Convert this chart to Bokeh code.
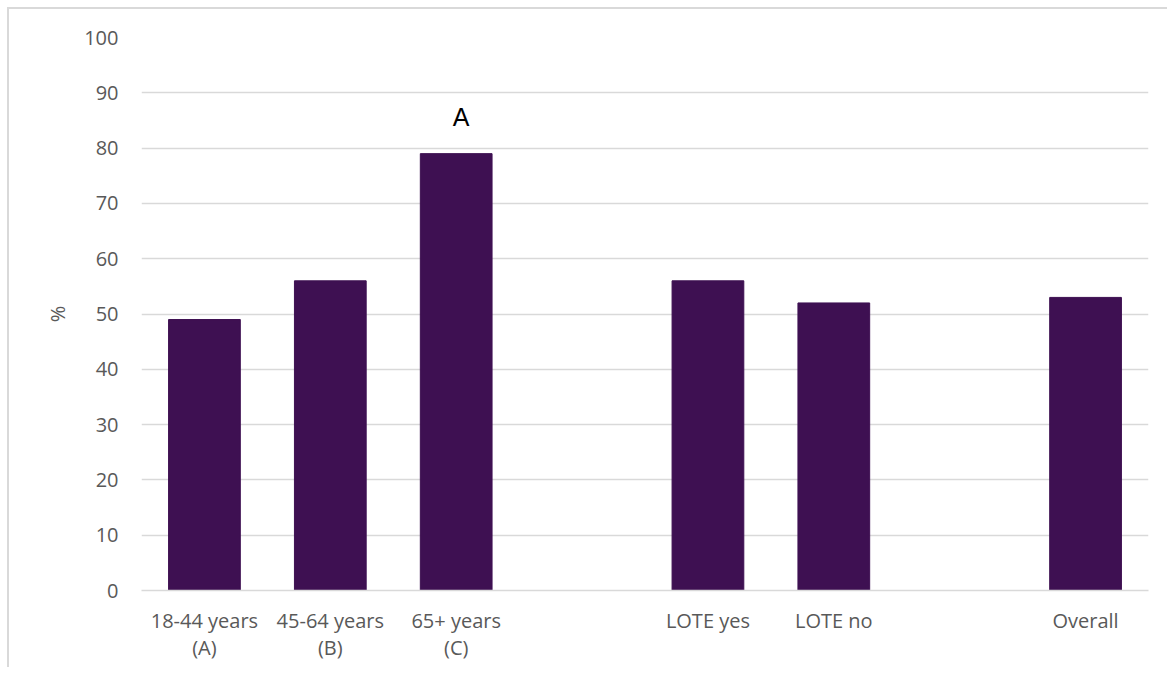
from bokeh.plotting import figure
from bokeh.models import ColumnDataSource, SingleIntervalTicker, LabelSet
from bokeh.core.properties import value
from bokeh.embed import file_html
from bokeh.resources import INLINE

categories = ["18-44 years\n(A)", "45-64 years\n(B)", "65+ years\n(C)", " ",
              "LOTE yes", "LOTE no", "  ", "Overall"]
bar_categories = ["18-44 years\n(A)", "45-64 years\n(B)", "65+ years\n(C)",
                  "LOTE yes", "LOTE no", "Overall"]
values = [49, 56, 79, 56, 52, 53]
sig_labels = ["", "", "A", "", "", ""]

FONT = "Open Sans"
GRAY = "#595959"
GRID = "#d9d9d9"
BAR = "#3e1052"

src = ColumnDataSource(dict(cat=bar_categories, val=values, lab=sig_labels))

p = figure(x_range=categories, y_range=(0, 100), width=1160, height=660,
           output_backend="svg", toolbar_location=None,
           min_border_left=132, min_border_right=21, min_border_top=28,
           min_border_bottom=79)
p.styles = {"border-top": "2px solid #d9d9d9", "border-left": "2px solid #d9d9d9",
            "margin-top": "7px", "margin-left": "7px"}

p.vbar(x="cat", top="val", width=0.57, source=src, color=BAR)

labels = LabelSet(x="cat", y="val", text="lab", source=src, text_align="center",
                  text_baseline="bottom", y_offset=23, x_offset=5,
                  text_font=value("Liberation Sans"), text_font_size="25px",
                  text_color="black")
p.add_layout(labels)

p.outline_line_color = None
p.background_fill_color = "white"
p.border_fill_color = "white"

p.xgrid.grid_line_color = None
p.ygrid.grid_line_color = GRID
p.ygrid.grid_line_width = 1.5
p.yaxis.ticker = SingleIntervalTicker(interval=10)

p.yaxis.axis_line_color = None
p.yaxis.major_tick_line_color = None
p.yaxis.minor_tick_line_color = None
p.yaxis.major_label_text_font = FONT
p.yaxis.major_label_text_font_size = "20px"
p.yaxis.major_label_text_color = GRAY
p.yaxis.major_label_standoff = 17
p.yaxis.axis_label = "%"
p.yaxis.axis_label_text_font = FONT
p.yaxis.axis_label_text_font_size = "20px"
p.yaxis.axis_label_text_font_style = "normal"
p.yaxis.axis_label_text_color = GRAY
p.yaxis.axis_label_standoff = 10

p.xaxis.axis_line_color = GRID
p.xaxis.axis_line_width = 1.5
p.xaxis.major_tick_line_color = None
p.xaxis.minor_tick_line_color = None
p.xaxis.major_label_text_font = FONT
p.xaxis.major_label_text_font_size = "20px"
p.xaxis.major_label_text_color = GRAY
p.xaxis.major_label_text_line_height = 1.0
p.xaxis.major_label_standoff = 10

open("out.html", "w").write(file_html(p, INLINE))
